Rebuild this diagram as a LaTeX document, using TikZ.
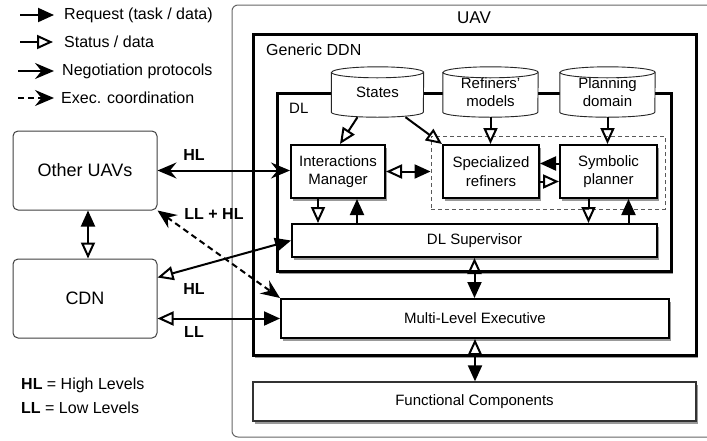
\documentclass[tikz,border=0pt]{standalone}
\usepackage{fontspec}
\setmainfont{Liberation Sans}
\usetikzlibrary{arrows.meta,shadows}
\newcommand\drawcyl[2]{%
  \draw[cylline] ([yshift=-5.5pt]#1.north west) -- ([yshift=5pt]#1.south west)
    arc[start angle=180,end angle=360,x radius=#2,y radius=5pt]
    -- ([yshift=-5.5pt]#1.north east)
    arc[start angle=0,end angle=180,x radius=#2,y radius=5.5pt] -- cycle;
  \draw[cylline] ([yshift=-5.5pt]#1.north west)
    arc[start angle=180,end angle=360,x radius=#2,y radius=5.5pt];}
\begin{document}
\begin{tikzpicture}[x=1pt,y=-1pt,
  font=\fontsize{15}{18.5}\selectfont,
  reqtip/.tip={Triangle[length=16pt,width=14pt]},
  stattip/.tip={Triangle[open,length=16pt,width=14pt]},
  negtip/.tip={Stealth[length=19pt,width=16pt,inset=6.5pt]},
  shdw/.style={drop shadow={shadow xshift=1.5pt,shadow yshift=-3pt,opacity=0.4,fill=black}},
  uavbox/.style={draw=black!60,line width=1pt,rounded corners=6pt},
  bigbox/.style={draw=black,line width=3pt,fill=white,shdw,inner sep=0pt},
  box/.style={draw=black,line width=2pt,fill=white,shdw,align=center,inner sep=0pt},
  fcbox/.style={draw=black!80,line width=1.3pt,fill=white,shdw,align=center,inner sep=0pt},
  ext/.style={draw=black!75,line width=1pt,rounded corners=5pt,fill=white,align=center,inner sep=0pt,font=\fontsize{18}{21}\selectfont},
  dbox/.style={draw=black!65,line width=0.9pt,dash pattern=on 4pt off 3pt,inner sep=0pt},
  cyl/.style={fill=white,align=center,inner sep=0pt},
  cylline/.style={draw=black!85,line width=0.9pt},
  conn/.style={line width=2pt},
  lbl/.style={font=\bfseries\fontsize{16}{19}\selectfont,inner sep=0pt},
  legtext/.style={anchor=west,inner sep=0pt,font=\fontsize{16}{19}\selectfont}]
\useasboundingbox (0,0) rectangle (707,440);

% legend
\coordinate (la1) at (20,15);  \coordinate (lb1) at (54,15);
\coordinate (la2) at (20,42);  \coordinate (lb2) at (53,42);
\coordinate (la3) at (18,71);  \coordinate (lb3) at (54,71);
\coordinate (la4) at (18,98);  \coordinate (lb4) at (54,98);
\draw[conn,-{reqtip}] (la1) -- (lb1);
\draw[conn,-{stattip}] (la2) -- (lb2);
\draw[conn,-{negtip}] (la3) -- (lb3);
\draw[conn,dash pattern=on 6pt off 4pt,-{negtip}] (la4) -- (lb4);
\node[legtext] (lt1) at (64,15) {Request (task / data)};
\node[legtext] (lt2) at (64,42) {Status / data};
\node[legtext] (lt3) at (62,71) {Negotiation protocols};
\node[legtext] (lt4) at (61,98) {Exec. coordination};
\node[legtext] (hlkey) at (21,385) {\textbf{HL} = High Levels};
\node[legtext] (llkey) at (21,408) {\textbf{LL} = Low Levels};

% UAV frame
\node[uavbox,minimum width=490pt,minimum height=432pt] (uav) at (477,221) {};
\node[font=\fontsize{17}{20}\selectfont] (uavt) at (474,18) {UAV};

% Generic DDN
\node[bigbox,minimum width=443pt,minimum height=321pt] (ddn) at (474.5,194.5) {};
\node[anchor=west,inner sep=0pt,font=\fontsize{16}{19}\selectfont] (ddnt) at (266,50) {Generic DDN};

% DL
\node[bigbox,minimum width=394pt,minimum height=178pt] (dl) at (474,182) {};
\node[anchor=west,inner sep=0pt] (dlt) at (289,108) {DL};

% cylinders
\node[cyl,minimum width=92pt,minimum height=50pt] (states) at (377.5,92) {States};
\drawcyl{states}{46pt}
\node[cyl,minimum width=95pt,minimum height=50pt] (refm) at (490.5,92) {Refiners'\\models};
\drawcyl{refm}{47.5pt}
\node[cyl,minimum width=95pt,minimum height=50pt] (pdom) at (607.5,92) {Planning\\domain};
\drawcyl{pdom}{47.5pt}

% dashed group
\node[dbox,minimum width=234pt,minimum height=73pt] (grp) at (548,172.5) {};

% inner boxes
\node[box,minimum width=94pt,minimum height=53pt] (im) at (338,171.5) {Interactions\\Manager};
\node[box,minimum width=96pt,minimum height=53pt] (sr) at (491,171.5) {Specialized\\refiners};
\node[box,minimum width=97pt,minimum height=53pt] (sp) at (608.5,171.5) {Symbolic\\planner};
\node[box,minimum width=365pt,minimum height=33pt] (sup) at (474.5,240.5) {DL Supervisor};
\node[box,minimum width=388pt,minimum height=39pt] (mle) at (475,318.5) {Multi-Level Executive};
\node[fcbox,minimum width=443pt,minimum height=39pt] (fc) at (474.5,401.5) {Functional Components};

% external
\node[ext,minimum width=144pt,minimum height=79pt] (other) at (85,170.5) {Other UAVs};
\node[ext,minimum width=144pt,minimum height=79pt] (cdn) at (85,298.5) {CDN};

% connectors inside DL
\draw[conn,-{stattip}] ([xshift=-20pt]states.south) -- ([xshift=2pt]im.north);
\draw[conn,-{stattip}] ([xshift=28pt]states.south) -- (sr.north west);
\draw[conn,-{stattip}] (refm.south) -- (refm.south |- sr.north);
\draw[conn,-{stattip}] (pdom.south) -- (pdom.south |- sp.north);
\draw[conn,{stattip}-{reqtip}] (im.east) -- (im.east -| grp.west);
\draw[conn,-{reqtip}] ([yshift=8pt]sp.west) -- ([yshift=8pt]sr.east);
\draw[conn,-{stattip}] ([yshift=-10pt]sr.east) -- ([yshift=-10pt]sp.west);
\draw[conn,-{stattip}] ([xshift=-20pt]im.south) -- ([xshift=-20pt]im.south |- sup.north);
\draw[conn,-{reqtip}] ([xshift=19pt]im.south |- sup.north) -- ([xshift=19pt]im.south);
\draw[conn,-{stattip}] ([xshift=-20pt]sp.south) -- ([xshift=-20pt]sp.south |- sup.north);
\draw[conn,-{reqtip}] ([xshift=20pt]sp.south |- sup.north) -- ([xshift=20pt]sp.south);
\draw[conn,{stattip}-{reqtip}] (sup.south) -- (sup.south |- mle.north);
\draw[conn,{stattip}-{reqtip}] (mle.south) -- (mle.south |- fc.north);

% external connectors
\draw[conn,{negtip}-{negtip}] (other.east) -- (other.east -| im.west);
\draw[conn,dash pattern=on 6pt off 4pt,{negtip}-{negtip}] (other.south east) -- (mle.north west);
\draw[conn,{stattip}-{reqtip}] ([yshift=21pt]cdn.east) -- (sup.west);
\draw[conn,{stattip}-{reqtip}] (mle.west -| cdn.east) -- (mle.west);
\draw[conn,{reqtip}-{stattip}] ([xshift=3pt]other.south) -- ([xshift=3pt]cdn.north);

% labels
\node[lbl] (hl1) at (194,155) {HL};
\node[lbl] (llhl) at (214,214) {LL + HL};
\node[lbl] (hl2) at (194,289) {HL};
\node[lbl] (ll1) at (194,332) {LL};
\end{tikzpicture}
\end{document}
